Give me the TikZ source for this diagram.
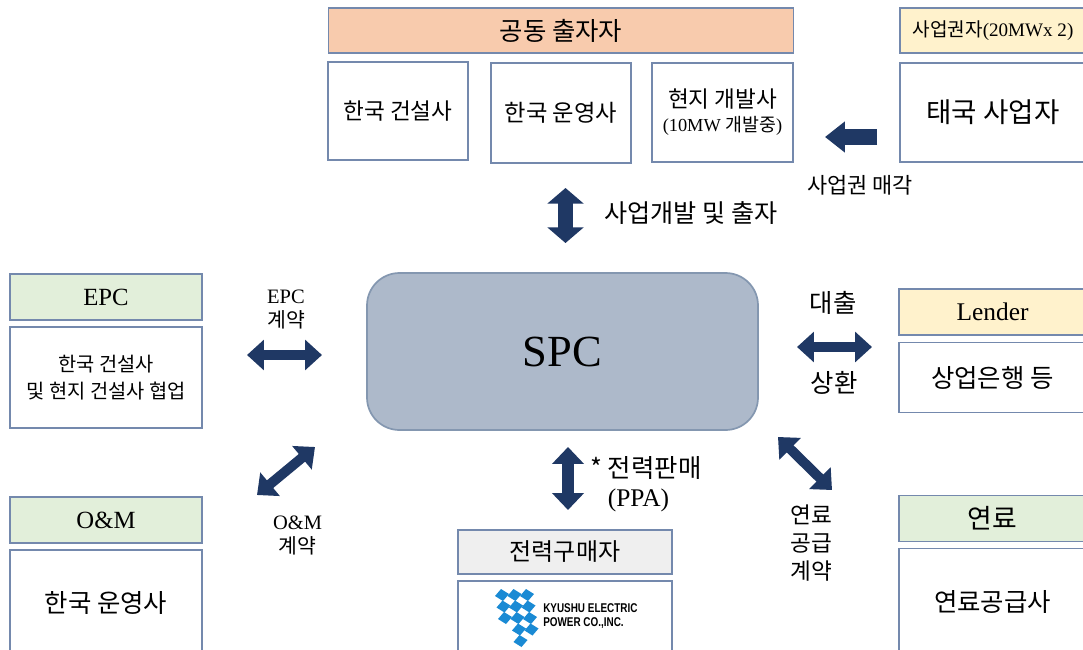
\documentclass[tikz,border=0pt]{standalone}
\usepackage{fontspec}
\setmainfont{Liberation Serif}
\newfontfamily\kr{Noto Sans CJK KR}
\newfontfamily\logofont{Liberation Sans}
\usetikzlibrary{arrows.meta}
\definecolor{navy}{HTML}{1F3864}
\definecolor{borde}{HTML}{7489AD}
\definecolor{naranja}{HTML}{F8CBAD}
\definecolor{amarillo}{HTML}{FFF2CC}
\definecolor{verdecl}{HTML}{E2EFDA}
\definecolor{griscl}{HTML}{EFEFEF}
\definecolor{spcfill}{HTML}{ADB9CA}
\definecolor{spcline}{HTML}{8497B0}
\definecolor{kyblue}{HTML}{1A8AD4}
\def\pxu{0.708pt}

\begin{document}
\begin{tikzpicture}[x=0.708pt,y=-0.708pt,
    caja/.style={draw=borde,line width=1pt,fill=white,inner sep=0pt,align=center},
    cab/.style={caja,fill=#1},
    tam/.style 2 args={minimum width=#1*\pxu,minimum height=#2*\pxu},
    etiq/.style={inner sep=0pt,align=center},
    flecha/.style={navy,line width=7pt,{Triangle[length=12pt,width=21pt]}-{Triangle[length=12pt,width=21pt]}}]
    % ---- Marco ----
    \clip (0,0) rectangle (1083,649);
    \fill[white] (0,0) rectangle (1083,649);

    % ---- Co-inversores (arriba) ----
    \node[cab=naranja,tam={465}{45},font=\fontsize{18}{21}\selectfont] (cofund) at (561,30.5) {\kr 공동 출자자};
    \node[caja,tam={140}{98},font=\fontsize{16}{19}\selectfont] (kcon) at (398,111) {\kr 한국 건설사};
    \node[caja,tam={140}{100},font=\fontsize{16.5}{19}\selectfont] (kop) at (561,113) {\kr 한국 운영사};
    \node[caja,tam={141}{99},font=\fontsize{16}{19}\selectfont] (ldev) at (722.5,112.5)
        {{\kr 현지 개발사}\\[-2pt]{\fontsize{13}{15}\selectfont (10MW {\kr 개발중})}};

    % ---- Titular de derechos ----
    \node[cab=amarillo,tam={186}{45},font=\fontsize{13.5}{16}\selectfont] (rights) at (993,30.5) {{\kr 사업권자}(20MWx 2)};
    \node[caja,tam={186}{99},font=\fontsize{19.5}{22}\selectfont] (thai) at (993,112.5) {\kr 태국 사업자};

    % ---- SPC ----
    \node[draw=spcline,fill=spcfill,line width=1.2pt,rounded corners=23pt,tam={391}{157},
        font=\fontsize{31.5}{36}\selectfont] (spc) at (562.5,351.5) {SPC};

    % ---- EPC / O&M (izquierda) ----
    \node[cab=verdecl,tam={192}{46},font=\fontsize{17.5}{20}\selectfont] (epch) at (106,297) {EPC};
    \node[caja,tam={192}{101},font=\fontsize{14}{19}\selectfont] (epcb) at (106,377.5)
        {{\kr 한국 건설사}\\{\kr 및 현지 건설사 협업}};
    \node[cab=verdecl,tam={192}{46},font=\fontsize{17.5}{20}\selectfont] (omh) at (106,520) {O\&M};
    \node[caja,tam={192}{106},font=\fontsize{18}{21}\selectfont] (omb) at (106,603) {\kr 한국 운영사};

    % ---- Comprador de energía ----
    \node[cab=griscl,tam={214}{44},font=\fontsize{17}{20}\selectfont] (buyh) at (565,552) {\kr 전력구매자};
    \node[caja,tam={214}{78}] (buyb) at (565,620) {};

    % ---- Lender / combustible (derecha) ----
    \node[cab=amarillo,tam={187}{46},font=\fontsize{18}{21}\selectfont] (lendh) at (992.5,312) {Lender};
    \node[caja,tam={187}{70},font=\fontsize{18}{21}\selectfont] (lendb) at (992.5,377.5) {\kr 상업은행 등};
    \node[cab=verdecl,tam={187}{46},font=\fontsize{19}{22}\selectfont] (fuelh) at (992.5,518.5) {\kr 연료};
    \node[caja,tam={187}{107},font=\fontsize{18}{21}\selectfont] (fuelb) at (992.5,602) {\kr 연료공급사};

    % ---- Logo ----
    \foreach \i/\j in {0/0,1/0,2/0,0/1,1/1,2/1,0/2,1/2,2/2,1/3,2/3,1/4}
        \fill[kyblue] ({502+12.5*\i+1.5*\j-7},{595+11.5*\j+1}) -- ++(6,-7) -- ++(8,5) -- ++(-6,7) -- cycle;
    \node[inner sep=0pt,anchor=west,align=left,font=\logofont\bfseries\fontsize{9}{10.5}\selectfont] (kyushu) at (543,616)
        {\scalebox{0.78}[1]{KYUSHU ELECTRIC}\\\scalebox{0.78}[1]{POWER CO.,INC.}};

    % ---- Flechas ----
    \coordinate (sellA) at (877,137);
    \coordinate (sellB) at (825,137);
    \coordinate (devA) at (565.5,188);
    \coordinate (devB) at (565.5,243);
    \coordinate (epcA) at (247,355);
    \coordinate (epcB) at (322,355);
    \coordinate (omA) at (257,495);
    \coordinate (omB) at (315,447);
    \coordinate (ppaA) at (568,447);
    \coordinate (ppaB) at (568,510);
    \coordinate (loanA) at (797,347);
    \coordinate (loanB) at (872,347);
    \coordinate (fuelA) at (778,437);
    \coordinate (fuelB) at (832,490);

    \draw[navy,line width=11.5pt,-{Triangle[length=14pt,width=21pt]}] (sellA) -- (sellB);
    \draw[navy,line width=10.5pt,{Triangle[length=11pt,width=25pt]}-{Triangle[length=11pt,width=25pt]}] (devA) -- (devB);
    \draw[navy,line width=8.5pt,{Triangle[length=12pt,width=22pt]}-{Triangle[length=12pt,width=22pt]}] (ppaA) -- (ppaB);
    \draw[flecha] (epcA) -- (epcB);
    \draw[flecha] (omA) -- (omB);
    \draw[flecha] (loanA) -- (loanB);
    \draw[flecha] (fuelA) -- (fuelB);

    % ---- Etiquetas de flechas ----
    \node[etiq,font=\fontsize{15.5}{18}\selectfont] (sellt) at (860,185) {\kr 사업권 매각};
    \node[etiq,anchor=west,font=\fontsize{17.8}{21}\selectfont] (devt) at (604,213) {\kr 사업개발 및 출자};
    \node[etiq,font=\fontsize{14.5}{17}\selectfont] (epct) at (286,310) {EPC\\{\kr 계약}};
    \node[etiq,font=\fontsize{14.5}{17}\selectfont] (omt) at (297.5,535) {O\&M\\{\kr 계약}};
    \node[etiq,anchor=north west,align=left,font=\fontsize{18}{21}\selectfont] (ppat) at (590,456)
        {{\kr * 전력판매}\\\hphantom{\kr * }(PPA)};
    \node[etiq,font=\fontsize{18}{21}\selectfont] (loant) at (833,303) {\kr 대출};
    \node[etiq,font=\fontsize{18}{21}\selectfont] (repayt) at (834,383) {\kr 상환};
    \node[etiq,font=\fontsize{16}{20}\selectfont] (fuelt) at (811,543) {\kr 연료\\\kr 공급\\\kr 계약};

\end{tikzpicture}
\end{document}
